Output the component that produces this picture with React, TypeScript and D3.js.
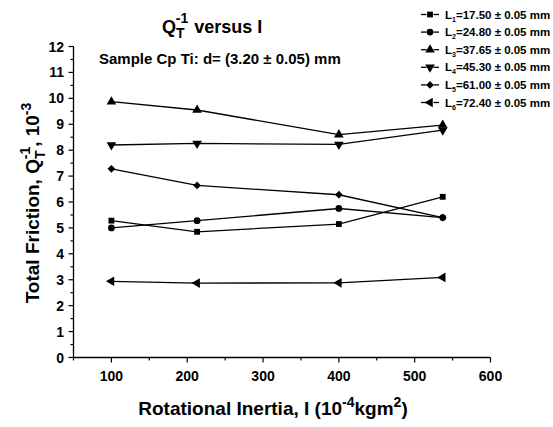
import React from "react";
import * as d3 from "d3";

const xValues = [100, 213, 400, 537];
const seriesNames = ["1", "2", "3", "4", "5", "6"];
const seriesLabels = [
  "=17.50 ± 0.05 mm",
  "=24.80 ± 0.05 mm",
  "=37.65 ± 0.05 mm",
  "=45.30 ± 0.05 mm",
  "=61.00 ± 0.05 mm",
  "=72.40 ± 0.05 mm",
];
const L1 = [5.28, 4.85, 5.15, 6.2];
const L2 = [5.0, 5.28, 5.75, 5.4];
const L3 = [9.87, 9.55, 8.6, 8.97];
const L4 = [8.2, 8.26, 8.22, 8.77];
const L5 = [7.28, 6.64, 6.28, 5.4];
const L6 = [2.94, 2.87, 2.88, 3.09];
const seriesValues = [L1, L2, L3, L4, L5, L6];
const markers = ["square", "circle", "triUp", "triDown", "diamond", "triLeft"];
const xTicks = [100, 200, 300, 400, 500, 600];
const yTicks = [0, 1, 2, 3, 4, 5, 6, 7, 8, 9, 10, 11, 12];

const W = 553, H = 427;
const FONT = "Liberation Sans, Arial, sans-serif";

function markerPath(kind: string): { d: string; rot: number } {
  const size = 40;
  switch (kind) {
    case "square": return { d: d3.symbol(d3.symbolSquare, 34)()!, rot: 0 };
    case "circle": return { d: d3.symbol(d3.symbolCircle, 36)()!, rot: 0 };
    case "triUp": return { d: d3.symbol(d3.symbolTriangle, size)()!, rot: 0 };
    case "triDown": return { d: d3.symbol(d3.symbolTriangle, size)()!, rot: 180 };
    case "triLeft": return { d: d3.symbol(d3.symbolTriangle, size)()!, rot: -90 };
    default: return { d: d3.symbol(d3.symbolSquare, 30)()!, rot: 45 };
  }
}

export default function App() {
  const x = d3.scaleLinear().domain([50, 600]).range([73.5, 490.5]);
  const y = d3.scaleLinear().domain([0, 12]).range([357.5, 46.5]);
  const line = d3.line<number>().x((_, i) => x(xValues[i])).y((v) => y(v));
  const xMinor = d3.range(50, 601, 50);
  const yMinor = d3.range(0, 12.01, 0.5);

  return (
    <svg width={W} height={H} style={{ position: "absolute", left: 0, top: 0, background: "#fff" }}>
      <rect width={W} height={H} fill="#fff" />
      {/* axes */}
      <line x1={x(50)} x2={x(600)} y1={y(0)} y2={y(0)} stroke="#000" strokeWidth={1.3} />
      <line x1={x(50)} x2={x(50)} y1={y(0)} y2={y(12)} stroke="#000" strokeWidth={1.3} />
      {xMinor.map((t) => (
        <line key={"xm" + t} x1={x(t)} x2={x(t)} y1={y(0)} y2={y(0) + (t % 100 === 0 ? 5 : 3)} stroke="#000" strokeWidth={1.2} />
      ))}
      {yMinor.map((t) => (
        <line key={"ym" + t} x1={x(50)} x2={x(50) - (t % 1 === 0 ? 5 : 3)} y1={y(t)} y2={y(t)} stroke="#000" strokeWidth={1.2} />
      ))}
      {xTicks.map((t) => (
        <text key={"xt" + t} x={x(t)} y={381} textAnchor="middle" fontFamily={FONT} fontWeight="bold" fontSize={14}>{t}</text>
      ))}
      {yTicks.map((t) => (
        <text key={"yt" + t} x={64} y={y(t) + 5} textAnchor="end" fontFamily={FONT} fontWeight="bold" fontSize={14}>{t}</text>
      ))}
      {/* axis titles */}
      <text x={273} y={415} textAnchor="middle" fontFamily={FONT} fontWeight="bold" fontSize={19}>
        Rotational Inertia, I (10<tspan dy={-8} fontSize={14}>-4</tspan><tspan dy={8}>kgm</tspan><tspan dy={-8} fontSize={14}>2</tspan><tspan dy={8}>)</tspan>
      </text>
      <text transform="translate(39,203) rotate(-90)" textAnchor="middle" fontFamily={FONT} fontWeight="bold" fontSize={19}>
        Total Friction, Q<tspan dy={6} fontSize={14}>T</tspan><tspan dx={-8} dy={-15} fontSize={14}>-1</tspan><tspan dy={9}>, 10</tspan><tspan dy={-8} fontSize={14}>-3</tspan>
      </text>
      {/* title */}
      <text x={162} y={33} fontFamily={FONT} fontWeight="bold" fontSize={18}>
        Q<tspan dy={5} fontSize={14}>T</tspan><tspan dx={-8} dy={-15} fontSize={14}>-1</tspan><tspan dy={10} dx={6}>versus I</tspan>
      </text>
      <text x={99} y={64} fontFamily={FONT} fontWeight="bold" fontSize={15}>Sample Cp Ti: d= (3.20 ± 0.05) mm</text>
      {/* series */}
      {seriesValues.map((vals, si) => {
        const m = markerPath(markers[si]);
        return (
          <g key={"s" + si}>
            <path d={line(vals)!} fill="none" stroke="#000" strokeWidth={1.3} />
            {vals.map((v, i) => (
              <path key={i} d={m.d} transform={`translate(${x(xValues[i])},${y(v)}) rotate(${m.rot})`} fill="#000" />
            ))}
          </g>
        );
      })}
      {/* legend */}
      {seriesNames.map((n, si) => {
        const m = markerPath(markers[si]);
        const ly = 14.5 + si * 17.6;
        return (
          <g key={"lg" + si}>
            <line x1={421} x2={426.5} y1={ly} y2={ly} stroke="#000" strokeWidth={1.3} />
            <line x1={433.5} x2={439} y1={ly} y2={ly} stroke="#000" strokeWidth={1.3} />
            <path d={m.d} transform={`translate(430,${ly}) rotate(${m.rot})`} fill="#000" />
            <text x={445} y={ly + 4} fontFamily={FONT} fontWeight="bold" fontSize={11.5}>
              L<tspan dy={3} fontSize={7}>{n}</tspan><tspan dy={-3}>{seriesLabels[si]}</tspan>
            </text>
          </g>
        );
      })}
    </svg>
  );
}
